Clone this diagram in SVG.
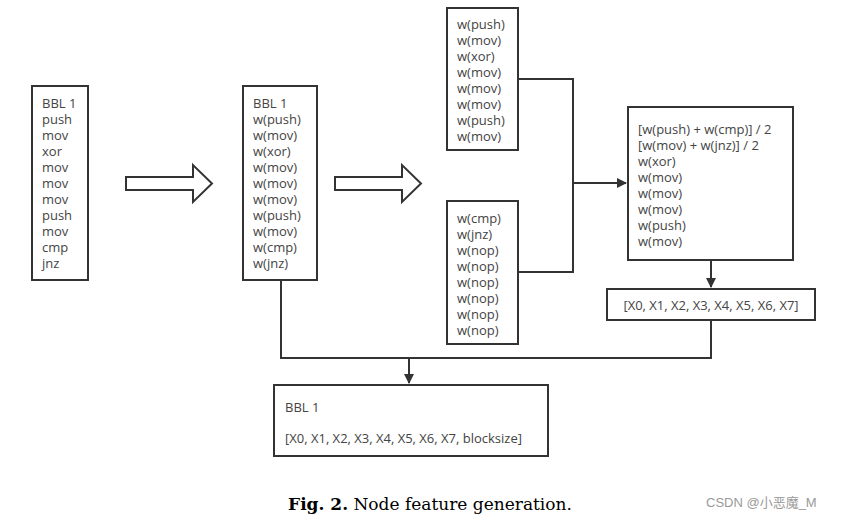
<svg xmlns="http://www.w3.org/2000/svg" width="858" height="520" viewBox="0 0 858 520">
<style>
.b{fill:#fff;stroke:#333;stroke-width:2}
.t{font-family:"Open Sans","Liberation Sans",sans-serif;font-size:13px;fill:#444}
.c{fill:none;stroke:#333;stroke-width:2}
</style>
<defs><marker id="a" markerWidth="10" markerHeight="10" refX="9" refY="5" orient="auto" markerUnits="userSpaceOnUse"><path d="M0,0L10,5L0,10z" fill="#333"/></marker></defs>
<rect width="858" height="520" fill="#fff"/>
<g id="n1"><rect class="b" x="32" y="86" width="56" height="194"/>
<text class="t" x="42" y="108"><tspan x="42">BBL 1</tspan><tspan x="42" dy="16">push</tspan><tspan x="42" dy="16">mov</tspan><tspan x="42" dy="16">xor</tspan><tspan x="42" dy="16">mov</tspan><tspan x="42" dy="16">mov</tspan><tspan x="42" dy="16">mov</tspan><tspan x="42" dy="16">push</tspan><tspan x="42" dy="16">mov</tspan><tspan x="42" dy="16">cmp</tspan><tspan x="42" dy="16">jnz</tspan></text></g>
<g id="n2"><rect class="b" x="243" y="86" width="74" height="194"/>
<text class="t" x="253" y="108"><tspan x="253">BBL 1</tspan><tspan x="253" dy="16">w(push)</tspan><tspan x="253" dy="16">w(mov)</tspan><tspan x="253" dy="16">w(xor)</tspan><tspan x="253" dy="16">w(mov)</tspan><tspan x="253" dy="16">w(mov)</tspan><tspan x="253" dy="16">w(mov)</tspan><tspan x="253" dy="16">w(push)</tspan><tspan x="253" dy="16">w(mov)</tspan><tspan x="253" dy="16">w(cmp)</tspan><tspan x="253" dy="16">w(jnz)</tspan></text></g>
<g id="n3"><rect class="b" x="447" y="8" width="71" height="142"/>
<text class="t" x="457" y="29"><tspan x="457">w(push)</tspan><tspan x="457" dy="16">w(mov)</tspan><tspan x="457" dy="16">w(xor)</tspan><tspan x="457" dy="16">w(mov)</tspan><tspan x="457" dy="16">w(mov)</tspan><tspan x="457" dy="16">w(mov)</tspan><tspan x="457" dy="16">w(push)</tspan><tspan x="457" dy="16">w(mov)</tspan></text></g>
<g id="n4"><rect class="b" x="447" y="201" width="71" height="143"/>
<text class="t" x="457" y="223"><tspan x="457">w(cmp)</tspan><tspan x="457" dy="16">w(jnz)</tspan><tspan x="457" dy="16">w(nop)</tspan><tspan x="457" dy="16">w(nop)</tspan><tspan x="457" dy="16">w(nop)</tspan><tspan x="457" dy="16">w(nop)</tspan><tspan x="457" dy="16">w(nop)</tspan><tspan x="457" dy="16">w(nop)</tspan></text></g>
<g id="n5"><rect class="b" x="628" y="107" width="165" height="153"/>
<text class="t" x="638" y="134"><tspan x="638">[w(push) + w(cmp)] / 2</tspan><tspan x="638" dy="16">[w(mov) + w(jnz)] / 2</tspan><tspan x="638" dy="16">w(xor)</tspan><tspan x="638" dy="16">w(mov)</tspan><tspan x="638" dy="16">w(mov)</tspan><tspan x="638" dy="16">w(mov)</tspan><tspan x="638" dy="16">w(push)</tspan><tspan x="638" dy="16">w(mov)</tspan></text></g>
<g id="n6"><rect class="b" x="607" y="289" width="208" height="31"/>
<text class="t" x="711" y="310" text-anchor="middle">[X0, X1, X2, X3, X4, X5, X6, X7]</text></g>
<g id="n7"><rect class="b" x="274" y="385" width="274" height="71"/>
<text class="t" x="285" y="412">BBL 1</text>
<text class="t" x="285" y="443">[X0, X1, X2, X3, X4, X5, X6, X7, blocksize]</text></g>
<g id="arrows">
<path class="b" d="M126,177H193V165L212,183.5L193,202V190H126Z"/>
<path class="b" d="M335,177H402V165L421,183.5L402,202V190H335Z"/>
</g>
<g id="connectors">
<path class="c" d="M518,79H573V272H518"/>
<path class="c" d="M573,183H626" marker-end="url(#a)"/>
<path class="c" d="M711,260V287" marker-end="url(#a)"/>
<path class="c" d="M711,320V358H281V280"/>
<path class="c" d="M409,358V383" marker-end="url(#a)"/>
</g>
<text x="430" y="510" text-anchor="middle" font-family="'DejaVu Serif','Liberation Serif',serif" font-size="17" fill="#000"><tspan font-weight="bold">Fig. 2.</tspan> Node feature generation.</text>
<text x="706" y="507" font-family="'Liberation Sans','Noto Sans CJK SC',sans-serif" font-size="13" fill="#999">CSDN @小恶魔_M</text>
</svg>
